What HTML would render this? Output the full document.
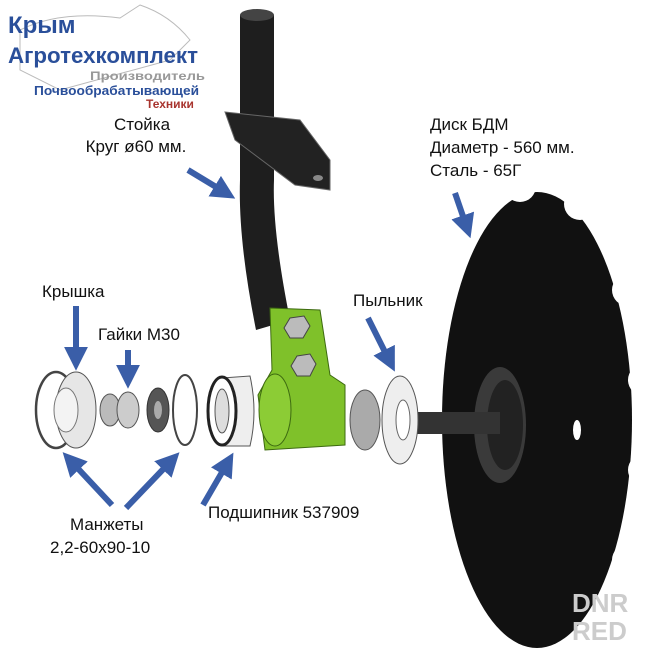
<!DOCTYPE html>
<html><head><meta charset="utf-8"><style>
html,body{margin:0;padding:0;background:#fff;}
svg{display:block}
text{font-family:"Liberation Sans",sans-serif;}
</style></head><body>
<svg width="660" height="670" viewBox="0 0 660 670" xmlns="http://www.w3.org/2000/svg">
<defs>
<marker id="ah" markerWidth="4" markerHeight="4" refX="2.2" refY="2" orient="auto" markerUnits="strokeWidth">
<path d="M0,0 L4,2 L0,4 z" fill="#3a5ea8"/></marker>
</defs>
<path d="M20,30 Q60,10 120,18 L140,5 Q170,15 190,40 L170,60 L60,90 L20,70 Z" fill="none" stroke="#bbb" stroke-width="1"/>
<text x="8" y="33" font-size="24" font-weight="bold" fill="#2a4f9a">Крым</text>
<text x="8" y="63" font-size="22" font-weight="bold" fill="#2a4f9a" textLength="190" lengthAdjust="spacingAndGlyphs">Агротехкомплект</text>
<text x="90" y="80" font-size="12" font-weight="bold" fill="#999" textLength="115" lengthAdjust="spacingAndGlyphs">Производитель</text>
<text x="34" y="95" font-size="13" font-weight="bold" fill="#2a4f9a" textLength="165" lengthAdjust="spacingAndGlyphs">Почвообрабатывающей</text>
<text x="146" y="108" font-size="12" font-weight="bold" fill="#a8342e">Техники</text>

<!-- disk -->
<ellipse cx="537" cy="420" rx="95" ry="228" fill="#111"/>
<g fill="#fff">
<circle cx="462" cy="212" r="18"/><circle cx="520" cy="186" r="16"/><circle cx="580" cy="204" r="16"/>
<circle cx="628" cy="290" r="16"/><circle cx="644" cy="380" r="16"/><circle cx="644" cy="470" r="16"/>
<circle cx="628" cy="560" r="16"/><circle cx="588" cy="644" r="18"/><circle cx="440" cy="605" r="18"/>
<circle cx="430" cy="515" r="18"/><circle cx="428" cy="300" r="18"/><circle cx="530" cy="664" r="16"/>
</g>
<ellipse cx="577" cy="430" rx="4" ry="10" fill="#fff"/>
<ellipse cx="500" cy="425" rx="26" ry="58" fill="#3a3a3a"/>
<ellipse cx="505" cy="425" rx="18" ry="45" fill="#222"/>
<rect x="410" y="412" width="90" height="22" fill="#333"/>

<!-- stand -->
<path d="M240,15 L274,15 L274,180 Q272,230 290,320 L256,330 Q238,240 240,180 Z" fill="#1e1e1e"/>
<ellipse cx="257" cy="15" rx="17" ry="6" fill="#444"/>
<path d="M225,112 L300,120 L330,160 L330,190 L295,185 L235,140 Z" fill="#222" stroke="#666" stroke-width="1"/>
<ellipse cx="318" cy="178" rx="5" ry="3" fill="#888"/>

<!-- green part -->
<path d="M270,308 L320,310 L330,375 L345,385 L345,445 L265,450 L258,395 L272,370 Z" fill="#7fc12a" stroke="#3d6a10" stroke-width="1"/>
<ellipse cx="275" cy="410" rx="16" ry="36" fill="#8ccc35" stroke="#3d6a10"/>
<polygon points="290,318 304,316 310,326 303,338 290,338 284,328" fill="#bbb" stroke="#444"/>
<polygon points="297,356 310,354 316,364 310,376 297,376 291,366" fill="#bbb" stroke="#444"/>

<path d="M222,378 L250,376 Q258,412 250,446 L222,446 Z" fill="#eee" stroke="#555"/>
<ellipse cx="222" cy="411" rx="14" ry="34" fill="#fff" stroke="#222" stroke-width="3"/>
<ellipse cx="222" cy="411" rx="7" ry="22" fill="#ddd" stroke="#555"/>
<ellipse cx="185" cy="410" rx="12" ry="35" fill="none" stroke="#444" stroke-width="2"/>
<ellipse cx="56" cy="410" rx="20" ry="38" fill="none" stroke="#444" stroke-width="2.5"/>
<ellipse cx="76" cy="410" rx="20" ry="38" fill="#e6e6e6" stroke="#555"/>
<ellipse cx="66" cy="410" rx="12" ry="22" fill="#f3f3f3" stroke="#777"/>
<ellipse cx="110" cy="410" rx="10" ry="16" fill="#bbb" stroke="#555"/>
<ellipse cx="128" cy="410" rx="11" ry="18" fill="#ccc" stroke="#555"/>
<ellipse cx="158" cy="410" rx="11" ry="22" fill="#555" stroke="#333"/>
<ellipse cx="158" cy="410" rx="4" ry="9" fill="#aaa"/>
<ellipse cx="365" cy="420" rx="15" ry="30" fill="#aaa" stroke="#555"/>
<ellipse cx="400" cy="420" rx="18" ry="44" fill="#eee" stroke="#555"/>
<ellipse cx="403" cy="420" rx="7" ry="20" fill="#fff" stroke="#666"/>

<g stroke="#3a5ea8" stroke-width="6" fill="none" marker-end="url(#ah)">
<line x1="188" y1="170" x2="226" y2="193"/>
<line x1="455" y1="193" x2="467" y2="228"/>
<line x1="76" y1="306" x2="76" y2="360"/>
<line x1="128" y1="350" x2="128" y2="378"/>
<line x1="368" y1="318" x2="390" y2="362"/>
<line x1="112" y1="505" x2="70" y2="460"/>
<line x1="126" y1="508" x2="172" y2="460"/>
<line x1="203" y1="505" x2="228" y2="462"/>
</g>

<g font-size="17" fill="#111">
<text x="142" y="130" text-anchor="middle">Стойка</text>
<text x="136" y="152" text-anchor="middle">Круг ø60 мм.</text>
<text x="430" y="130">Диск БДМ</text>
<text x="430" y="153">Диаметр - 560 мм.</text>
<text x="430" y="176">Сталь -  65Г</text>
<text x="42" y="297">Крышка</text>
<text x="98" y="340">Гайки М30</text>
<text x="353" y="306">Пыльник</text>
<text x="70" y="530">Манжеты</text>
<text x="50" y="553">2,2-60х90-10</text>
<text x="208" y="518">Подшипник 537909</text>
</g>
<text x="572" y="612" font-size="26" font-weight="bold" fill="#ccc">DNR</text>
<text x="572" y="640" font-size="26" font-weight="bold" fill="#ccc">RED</text>
</svg>
</body></html>
